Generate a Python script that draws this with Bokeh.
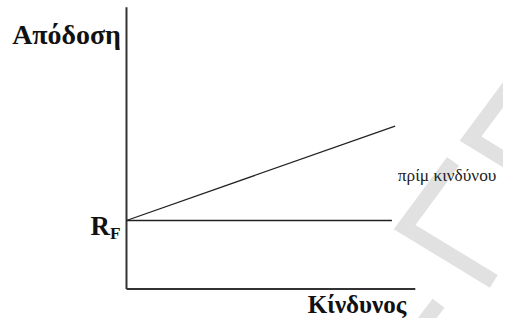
from bokeh.plotting import figure
from bokeh.models import Range1d
from bokeh.embed import file_html
from bokeh.resources import INLINE
from bokeh.core.properties import value

# ---- data (conceptual risk / return units) ----
risk_axis = [0.0, 10.0]          # horizontal axis extent (Κίνδυνος)
return_axis = [0.0, 10.0]        # vertical axis extent (Απόδοση)
risk_free = 2.43                 # R_F level
rf_line_risk = [0.0, 9.19]       # horizontal R_F line
sml_risk = [0.0, 9.30]           # risk-return line
sml_return = [2.43, 5.78]

y_title = "Απόδοση"
x_title = "Κίνδυνος"
rf_main = "R"
rf_sub = "F"
premium_label = "πρίμ κινδύνου"

# ---- layout helpers (reference pixel position -> data) ----
REF_W, REF_H = 519, 334
W, H = 503, 318
S = (W / REF_W + H / REF_H) / 2     # font scale
OX, OY, KX, KY = 130.0, 303.0, 29.8, 29.6


def dx(px):
    return (px - OX) / KX


def dy(py):
    return (OY - py) / KY


def fs(px):
    return f"{px * S:.1f}px"


p = figure(width=W, height=H,
           x_range=Range1d(dx(0), dx(REF_W)),
           y_range=Range1d(dy(REF_H), dy(0)),
           output_backend="svg", toolbar_location=None,
           x_axis_type=None, y_axis_type=None, min_border=0)
p.outline_line_color = None
p.background_fill_color = "white"
p.border_fill_color = "white"

# ---- faint watermark stripes ----
wm_px = [
    [(544, 64), (485, 145), (536, 177)],
    [(467, 169), (417, 238), (509, 295)],
    [(428, 350), (452, 318)],
]
p.multi_line(xs=[[dx(a) for a, b in seg] for seg in wm_px],
             ys=[[dy(b) for a, b in seg] for seg in wm_px],
             line_width=15, line_color="#c8c8c8", line_alpha=0.55,
             line_cap="butt", line_join="miter")

# ---- axes ----
p.line(x=[0, 0], y=return_axis, line_width=2, line_color="#333333")
p.line(x=risk_axis, y=[0, 0], line_width=2, line_color="#333333")

# ---- R_F line and risk line ----
p.line(x=rf_line_risk, y=[risk_free, risk_free], line_width=1.6, line_color="#222222")
p.line(x=sml_risk, y=sml_return, line_width=1.3, line_color="#222222")

serif = value("Liberation Serif")

p.text(x=[dx(12)], y=[dy(36)], text=[y_title], text_font=serif,
       text_font_style="bold", text_font_size=fs(29),
       text_baseline="alphabetic", text_align="left", text_color="#111111")

p.text(x=[dx(317)], y=[dy(319)], text=[x_title], text_font=serif,
       text_font_style="bold", text_font_size=fs(26),
       text_baseline="alphabetic", text_align="left", text_color="#111111")

p.text(x=[dx(113)], y=[risk_free - 6 / KY], text=[rf_main], text_font=serif,
       text_font_style="bold", text_font_size=fs(28),
       text_baseline="alphabetic", text_align="right", text_color="#111111")
p.text(x=[dx(113)], y=[risk_free - 14 / KY], text=[rf_sub], text_font=serif,
       text_font_style="bold", text_font_size=fs(18),
       text_baseline="alphabetic", text_align="left", text_color="#111111")

p.text(x=[dx(410)], y=[dy(184)], text=[premium_label], text_font=serif,
       text_font_size=fs(18), text_baseline="alphabetic",
       text_align="left", text_color="#222222")

open("out.html", "w").write(file_html(p, INLINE))
